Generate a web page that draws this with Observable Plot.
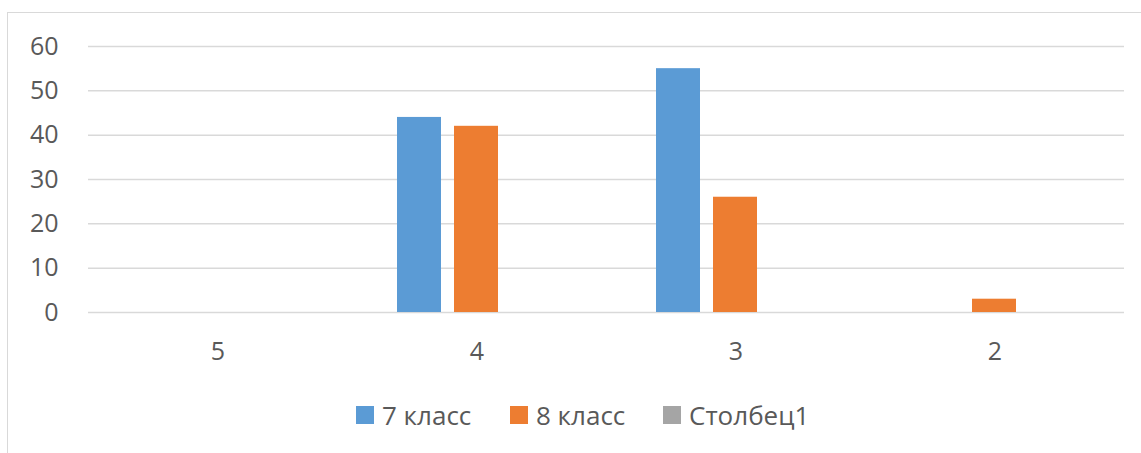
<!DOCTYPE html>
<html>
<head>
<meta charset="utf-8">
<script src="https://cdn.jsdelivr.net/npm/d3@7"></script>
<script src="https://cdn.jsdelivr.net/npm/@observablehq/plot@0.6"></script>
<style>
  html, body { margin: 0; padding: 0; background: #fff; }
  #wrap { position: relative; width: 1141px; height: 453px; overflow: hidden; font-family: "Open Sans", "Noto Sans", sans-serif; }
  #frame { position: absolute; left: 7px; top: 12px; width: 1200px; height: 500px; border-top: 1.5px solid #D9D9D9; border-left: 1.5px solid #D9D9D9; }
  #chart { position: absolute; left: 0; top: 0; }
  #legend { position: absolute; left: 0; top: 398px; width: 1141px; height: 34px; color: #595959; font-size: 26px; }
  .item { position: absolute; top: 0; height: 34px; display: flex; align-items: center; }
  .sw { width: 18px; height: 18px; margin-right: 8px; }
</style>
</head>
<body>
<div id="wrap">
  <div id="frame"></div>
  <div id="chart"></div>
  <div id="legend"></div>
</div>
<script>
const categories = ["5", "4", "3", "2"];
const seriesNames = ["7 класс", "8 класс", "Столбец1"];
const seriesColors = ["#5B9BD5", "#ED7D31", "#A5A5A5"];
const values7 = [0, 44, 55, 0];
const values8 = [0, 42, 26, 3];
const valuesCol1 = [0, 0, 0, 0];
const yTicks = [0, 10, 20, 30, 40, 50, 60];

const allValues = [values7, values8, valuesCol1];
const data = [];
categories.forEach((c, i) => {
  seriesNames.forEach((s, j) => {
    data.push({ grade: c, series: s, value: allValues[j][i] });
  });
});

const chart = Plot.plot({
  width: 1141,
  height: 385,
  marginLeft: 87,
  marginRight: 17,
  marginTop: 46,
  marginBottom: 73,
  style: { fontFamily: "'Open Sans', 'Noto Sans', sans-serif", fontSize: "24px", color: "#595959", background: "transparent" },
  fx: { domain: categories, padding: 0, label: null },
  x: { domain: seriesNames, paddingInner: 0.226, paddingOuter: 0.871, axis: null },
  y: { domain: [0, 60], label: null },
  color: { domain: seriesNames, range: seriesColors },
  marks: [
    Plot.gridY(yTicks, { stroke: "#D9D9D9", strokeOpacity: 1, strokeWidth: 1.5 }),
    Plot.barY(data, { fx: "grade", x: "series", y: "value", fill: "series" }),
    Plot.axisY(yTicks, { tickSize: 0, tickPadding: 30, fill: "#595959", fontSize: 25, label: null }),
    Plot.axisFx({ anchor: "bottom", tickSize: 0, tickPadding: 30, fill: "#595959", fontSize: 25, label: null })
  ]
});
document.getElementById("chart").appendChild(chart);

// legend item positions follow the series order, spaced evenly from center
const legend = document.getElementById("legend");
const legendLefts = [356, 510, 663];
seriesNames.forEach((s, j) => {
  const item = document.createElement("div");
  item.className = "item";
  item.style.left = legendLefts[j] + "px";
  const sw = document.createElement("div");
  sw.className = "sw";
  sw.style.background = seriesColors[j];
  const t = document.createElement("span");
  t.textContent = s;
  item.appendChild(sw);
  item.appendChild(t);
  legend.appendChild(item);
});
</script>
</body>
</html>
